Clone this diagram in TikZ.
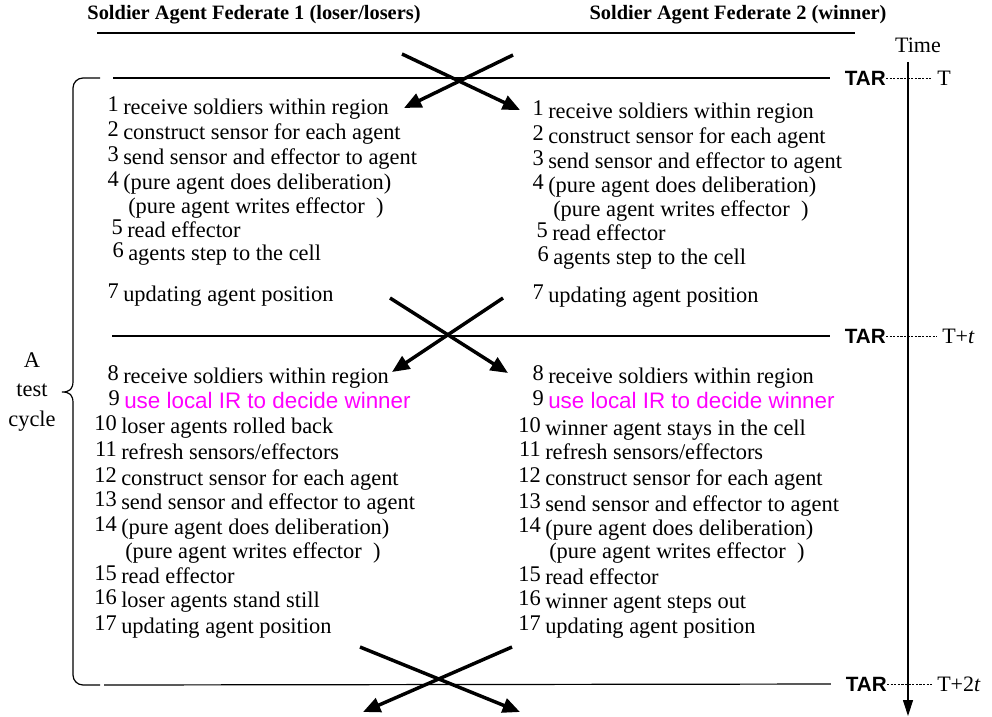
\documentclass[tikz,border=0pt]{standalone}
\usepackage{fontspec}
\setmainfont{Liberation Serif}
\newfontfamily\arialfont{Liberation Sans}
\usetikzlibrary{arrows.meta,positioning}
\definecolor{irpink}{RGB}{255,0,255}

\begin{document}
\begin{tikzpicture}[
    x=0.75pt, y=-0.75pt,
    >=Latex,
    itemtext/.style={inner sep=0pt, font=\fontsize{16.8}{19}\selectfont},
    header/.style={inner sep=0pt, font=\fontsize{15.3}{18}\selectfont\bfseries},
    tar/.style={inner sep=0pt, anchor=east, font=\fontsize{15.5}{18}\selectfont\arialfont\bfseries},
    tlabel/.style={inner sep=0pt, anchor=west, font=\fontsize{16.5}{19}\selectfont},
    sync/.style={line width=0.9pt, shorten >=11pt},
    tick/.style={dash pattern=on 1.6pt off 1.1pt, line width=0.6pt, shorten >=4pt},
    cross/.style={line width=2.6pt, -{Triangle[length=13pt,width=11pt]}}
]
    \useasboundingbox (0,0) rectangle (992,717);

    % --- 1. titles ---
    \node (head1) at (254,15) [header] {Soldier Agent Federate 1 (loser/losers)};
    \node (head2) at (738,15) [header] {Soldier Agent Federate 2 (winner)};
    \coordinate (ul1) at (97,33);
    \coordinate (ul2) at (855,33);
    \draw[line width=0.9pt] (ul1) -- (ul2);

    % --- 2. time axis and TAR points ---
    \node (timelbl) at (918,45) [tlabel, anchor=center] {Time};
    \coordinate (axtop) at (908,62);
    \coordinate (axbot) at (908,716);
    \draw[line width=0.9pt, -{Triangle[length=12pt,width=7.5pt]}] (axtop) -- (axbot);

    \node (tar0) at (886,78) [tar] {TAR};
    \node (tar1) at (886,336) [tar] {TAR};
    \node (tar2) at (887,684) [tar] {TAR};
    \node (t0) at (937,78) [tlabel] {T};
    \node (t1) at (942,336) [tlabel] {T+\textit{t}};
    \node (t2) at (937,684) [tlabel] {T+2\textit{t}};
    \draw[tick] (tar0.east) -- (t0.west);
    \draw[tick] (tar1.east) -- (t1.west);
    \draw[tick] (tar2.east) -- (t2.west);

    \coordinate (line0) at (113,78);
    \coordinate (line1) at (112,336);
    \coordinate (line2) at (104,685);
    \draw[sync] (line0) -- (tar0.west);
    \draw[sync] (line1) -- (tar1.west);
    \draw[sync] (line2) -- (tar2.west);

    % --- 3. brace of the test cycle ---
    \draw[line width=0.9pt] (100,78) -- (83,78) to[out=180,in=90] (73,88) -- (73,381)
        .. controls (73,389) and (70,392) .. (62,392)
        .. controls (70,392) and (73,395) .. (73,403) -- (73,675)
        to[out=-90,in=180] (83,685) -- (100,685);
    \node (cycle) at (32,392) [itemtext, align=center] {A\\[3pt]test\\[3pt]cycle};

    % --- 4. steps of one cycle ---
    % #1 name, #2 text x, #3 baseline y, #4 step number, #5 text
    \newcommand{\cycleline}[5]{
        \node (#1) at (#2,#3) [itemtext, anchor=base west] {#5};
        \node (#1num) at (#2-4,#3-3) [itemtext, anchor=base east] {#4};
    }

    % left federate, first half
    \cycleline{L1}{123}{114}{1}{receive soldiers within region}
    \cycleline{L2}{123}{139}{2}{construct sensor for each agent}
    \cycleline{L3}{123}{164}{3}{send sensor and effector to agent}
    \cycleline{L4}{123}{189}{4}{(pure agent does deliberation)}
    \node (L4b) at (128,213) [itemtext, anchor=base west] {(pure agent writes effector~~)};
    \cycleline{L5}{127}{237}{5}{read effector}
    \cycleline{L6}{128}{260}{6}{agents step to the cell}
    \cycleline{L7}{123}{301}{7}{updating agent position}

    % right federate, first half
    \cycleline{R1}{548}{118}{1}{receive soldiers within region}
    \cycleline{R2}{548}{143}{2}{construct sensor for each agent}
    \cycleline{R3}{548}{168}{3}{send sensor and effector to agent}
    \cycleline{R4}{548}{192}{4}{(pure agent does deliberation)}
    \node (R4b) at (553,216) [itemtext, anchor=base west] {(pure agent writes effector~~)};
    \cycleline{R5}{552}{240}{5}{read effector}
    \cycleline{R6}{553}{264}{6}{agents step to the cell}
    \cycleline{R7}{548}{302}{7}{updating agent position}

    % left federate, second half
    \cycleline{L8}{123}{383}{8}{receive soldiers within region}
    \cycleline{L9}{124}{408}{9}{\color{irpink}\arialfont use local IR to decide winner}
    \cycleline{L10}{121}{433}{10}{loser agents rolled back}
    \cycleline{L11}{121}{459}{11}{refresh sensors/effectors}
    \cycleline{L12}{121}{485}{12}{construct sensor for each agent}
    \cycleline{L13}{121}{509}{13}{send sensor and effector to agent}
    \cycleline{L14}{121}{534}{14}{(pure agent does deliberation)}
    \node (L14b) at (125,558) [itemtext, anchor=base west] {(pure agent writes effector~~)};
    \cycleline{L15}{121}{583}{15}{read effector}
    \cycleline{L16}{121}{607}{16}{loser agents stand still}
    \cycleline{L17}{121}{633}{17}{updating agent position}

    % right federate, second half
    \cycleline{R8}{548}{383}{8}{receive soldiers within region}
    \cycleline{R9}{548}{408}{9}{\color{irpink}\arialfont use local IR to decide winner}
    \cycleline{R10}{545}{435}{10}{winner agent stays in the cell}
    \cycleline{R11}{545}{459}{11}{refresh sensors/effectors}
    \cycleline{R12}{545}{485}{12}{construct sensor for each agent}
    \cycleline{R13}{545}{511}{13}{send sensor and effector to agent}
    \cycleline{R14}{545}{535}{14}{(pure agent does deliberation)}
    \node (R14b) at (549,558) [itemtext, anchor=base west] {(pure agent writes effector~~)};
    \cycleline{R15}{545}{584}{15}{read effector}
    \cycleline{R16}{545}{608}{16}{winner agent steps out}
    \cycleline{R17}{545}{633}{17}{updating agent position}

    % --- 5. exchange crosses between the federates ---
    \coordinate (x0a) at (402,54);  \coordinate (x0b) at (520,110);
    \coordinate (x0c) at (513,55);  \coordinate (x0d) at (404,108);
    \draw[cross] (x0a) -- (x0b);
    \draw[cross] (x0c) -- (x0d);

    \coordinate (x1a) at (390,298); \coordinate (x1b) at (508,373);
    \coordinate (x1c) at (503,298); \coordinate (x1d) at (392,372);
    \draw[cross] (x1a) -- (x1b);
    \draw[cross] (x1c) -- (x1d);

    \coordinate (x2a) at (360,647); \coordinate (x2b) at (520,712);
    \coordinate (x2c) at (512,647); \coordinate (x2d) at (363,712);
    \draw[cross] (x2a) -- (x2b);
    \draw[cross] (x2c) -- (x2d);

\end{tikzpicture}
\end{document}
